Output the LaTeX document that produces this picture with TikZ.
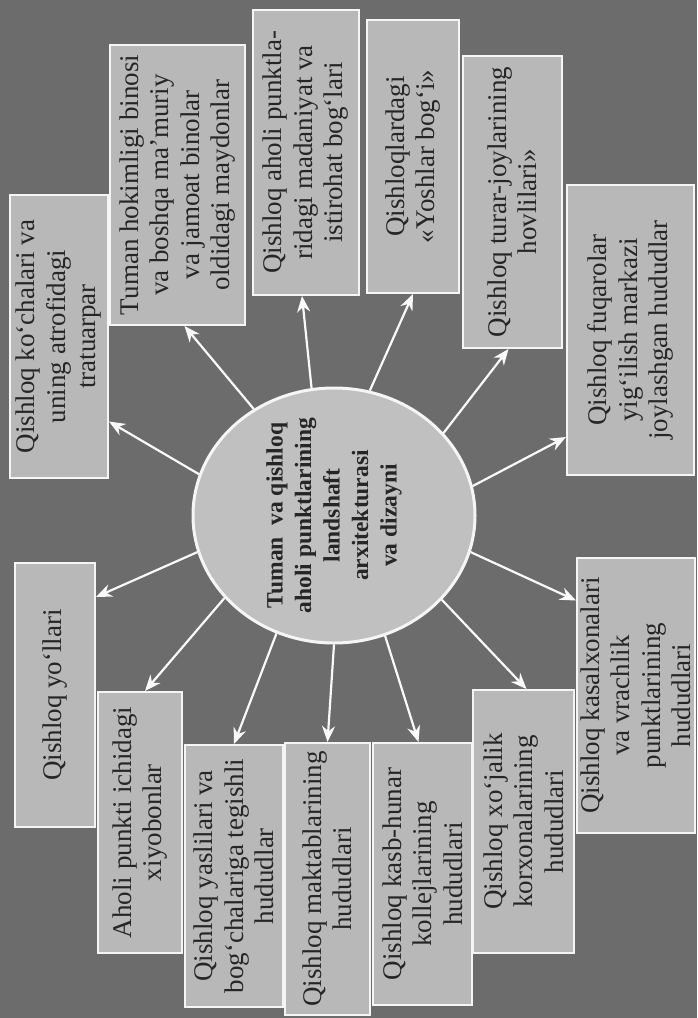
\documentclass[tikz,border=0pt]{standalone}
\usepackage{fontspec}
\setmainfont{Liberation Serif}
\usetikzlibrary{arrows.meta,calc,shapes.geometric}

\definecolor{bgdark}{RGB}{108,108,108}
\definecolor{boxgray}{RGB}{184,184,184}
\definecolor{hubgray}{RGB}{192,192,192}
\definecolor{inkgray}{RGB}{38,38,38}

\begin{document}
\begin{tikzpicture}[
        x=1pt, y=1pt,
        area/.style={rectangle, rotate=90, draw=white!92!gray, line width=2pt, fill=boxgray, text=inkgray, align=center, inner sep=0pt, font=\fontsize{27}{30.5}\selectfont},
        hub/.style={ellipse, rotate=90, draw=white!92!gray, line width=3pt, fill=hubgray, text=inkgray, align=center, inner xsep=-20pt, inner ysep=0pt, minimum width=255pt, minimum height=282pt, font=\bfseries\fontsize{23.5}{28.5}\selectfont},
        arrow/.style={white!95!gray, line width=2.2pt, -{Stealth[length=16pt,width=13pt]}}
    ]

        % --- Page ---
        \useasboundingbox (0,0) rectangle (697,-1018);
        \fill[bgdark] (0,0) rectangle (697,-1018);

        % --- Centre ---
        \node (hub) [hub] at (334,-515.5) {Tuman~ va qishloq\\aholi punktlarining\\landshaft\\arxitekturasi\\va dizayni};

        % --- Upper row ---
        \node (kochalar) [area, minimum width=283pt, minimum height=98pt] at (59,-336.5) {Qishloq ko‘chalari va\\uning atrofidagi\\tratuarpar};
        \node (hokimlik) [area, minimum width=280pt, minimum height=135pt] at (177.5,-185) {Tuman hokimligi binosi\\va boshqa ma’muriy\\va jamoat binolar\\oldidagi maydonlar};
        \node (madaniyat) [area, minimum width=285pt, minimum height=106pt] at (306,-152.5) {Qishloq aholi punktla-\\ridagi madaniyat va\\istirohat bog‘lari};
        \node (yoshlar) [area, minimum width=273pt, minimum height=92pt] at (413,-156.5) {Qishloqlardagi\\«Yoshlar bog‘i»};
        \node (hovli) [area, minimum width=292pt, minimum height=99pt] at (512.5,-202) {Qishloq turar-joylarining\\hovlilari»};
        \node (fuqaro) [area, minimum width=290pt, minimum height=127pt] at (630.5,-330) {Qishloq fuqarolar\\yig‘ilish markazi\\joylashgan hududlar};

        % --- Lower row ---
        \node (yollar) [area, minimum width=264pt, minimum height=80pt] at (55,-695) {Qishloq yo‘llari};
        \node (xiyobon) [area, minimum width=261pt, minimum height=84pt] at (140,-822.5) {Aholi punkti ichidagi\\xiyobonlar};
        \node (bogcha) [area, minimum width=262pt, minimum height=98pt] at (234,-876) {Qishloq yaslilari va\\bog‘chalariga tegishli\\hududlar};
        \node (maktab) [area, minimum width=272pt, minimum height=85pt] at (327.5,-879) {Qishloq maktablarining\\hududlari};
        \node (kollej) [area, minimum width=262pt, minimum height=99pt] at (422.5,-874) {Qishloq kasb-hunar\\kollejlarining\\hududlari};
        \node (korxona) [area, minimum width=263pt, minimum height=101pt] at (523.5,-821.5) {Qishloq xo‘jalik\\korxonalarining\\hududlari};
        \node (kasalxona) [area, minimum width=275pt, minimum height=118pt] at (636,-695.5) {Qishloq kasalxonalari\\va vrachlik\\punktlarining\\hududlari};

        % --- Arrows ---
        \draw [arrow] (hub.73) -- ($(kochalar.south)+(0,-85)$);
        \draw [arrow] (hub.37) -- ($(hokimlik.west)+(7,0)$);
        \draw [arrow] (hub.10) -- ($(madaniyat.west)+(-4,0)$);
        \draw [arrow] (hub.-16) -- (yoshlar.west);
        \draw [arrow] (hub.-53) -- ($(hovli.west)+(-4,0)$);
        \draw [arrow] (hub.-78) -- ($(fuqaro.north)+(0,-107)$);
        \draw [arrow] (hub.105) -- ($(yollar.south)+(0,98)$);
        \draw [arrow] (hub.127) -- ($(xiyobon.east)+(5,0)$);
        \draw [arrow] (hub.154) -- (bogcha.east);
        \draw [arrow] (hub.180) -- (maktab.east);
        \draw [arrow] (hub.203) -- ($(kollej.east)+(-4,0)$);
        \draw [arrow] (hub.232) -- ($(korxona.east)+(3,0)$);
        \draw [arrow] (hub.255) -- ($(kasalxona.north)+(0,95)$);

    \end{tikzpicture}
\end{document}
